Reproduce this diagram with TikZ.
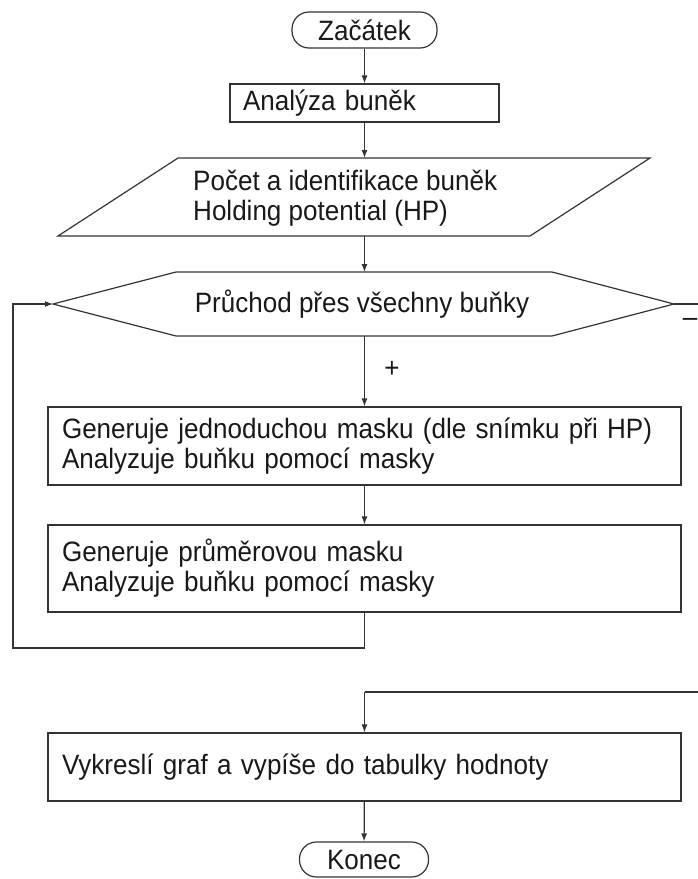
\documentclass[tikz,border=0pt]{standalone}
\usepackage{fontspec}
\setmainfont{Liberation Sans}[FakeStretch=0.93]
\usetikzlibrary{arrows.meta}
\begin{document}
\begin{tikzpicture}[x=1pt,y=-1pt,
  every node/.style={font=\fontsize{28}{30}\selectfont, text=black!90},
  ln/.style={draw=black!80, line width=1.2pt},
  arr/.style={ln, -{Latex[length=8pt,width=6pt]}},
  term/.style={ln, rectangle, rounded corners=17pt, inner sep=0pt},
  box/.style={ln, rectangle, align=left, inner xsep=14pt, inner ysep=0pt}]
\useasboundingbox (0,0) rectangle (698,879);

\node[term, minimum width=145pt, minimum height=36pt] (start) at (364.5,30) {Začátek};
\node[box, minimum width=269pt, minimum height=38pt, text width=243pt, inner xsep=13pt] (ana) at (364.5,103) {Analýza buněk};

% parallelogram
\draw[ln] (178,158) -- (650,158) -- (530,236) -- (58,236) -- cycle;
\coordinate (parT) at (364.5,158);
\coordinate (parB) at (364.5,236);
\node[anchor=west, align=left, inner sep=0pt] (partext) at (193,198) {Počet a identifikace buněk\\Holding potential (HP)};

% hexagon
\draw[ln] (53,304) -- (176,272) -- (552,272) -- (674,304) -- (552,336) -- (176,336) -- cycle;
\coordinate (hexL) at (53,304);
\coordinate (hexR) at (674,304);
\coordinate (hexT) at (364.5,272);
\coordinate (hexB) at (364.5,336);
\node[inner sep=0pt] (hextext) at (362,304) {Průchod přes všechny buňky};

\node[box, minimum width=633pt, minimum height=78pt, text width=605pt] (b1) at (364.5,446) {Generuje jednoduchou masku (dle snímku při HP)\\Analyzuje buňku pomocí masky};
\node[box, minimum width=633pt, minimum height=87pt, text width=605pt] (b2) at (364.5,568.5) {Generuje průměrovou masku\\Analyzuje buňku pomocí masky};
\node[box, minimum width=633pt, minimum height=68pt, text width=605pt] (b3) at (364.5,767) {Vykreslí graf a vypíše do tabulky hodnoty};
\node[term, minimum width=129pt, minimum height=35pt] (end) at (364,859.5) {Konec};

\coordinate (loopA) at (364.5,648);
\coordinate (loopB) at (13,648);
\coordinate (loopC) at (13,304);
\coordinate (exA) at (712,304);
\coordinate (exB) at (712,692);
\coordinate (exC) at (364.5,692);

\draw[arr] (start) -- (ana);
\draw[arr] (ana) -- (parT);
\draw[arr] (parB) -- (hexT);
\draw[arr] (hexB) -- (b1);
\node[inner sep=0pt] (plus) at (392,369) {+};
\draw[arr] (b1) -- (b2);
\draw[arr] (b2.south -| loopA) -- (loopA) -- (loopB) -- (loopC) -- (hexL);
\draw[ln] (hexR) -- (exA) -- (exB) -- (exC);
\draw[arr] (exC) -- (b3);
\node[inner sep=0pt] (minus) at (690,322) {–};
\draw[arr] (b3) -- (end);
\end{tikzpicture}
\end{document}
